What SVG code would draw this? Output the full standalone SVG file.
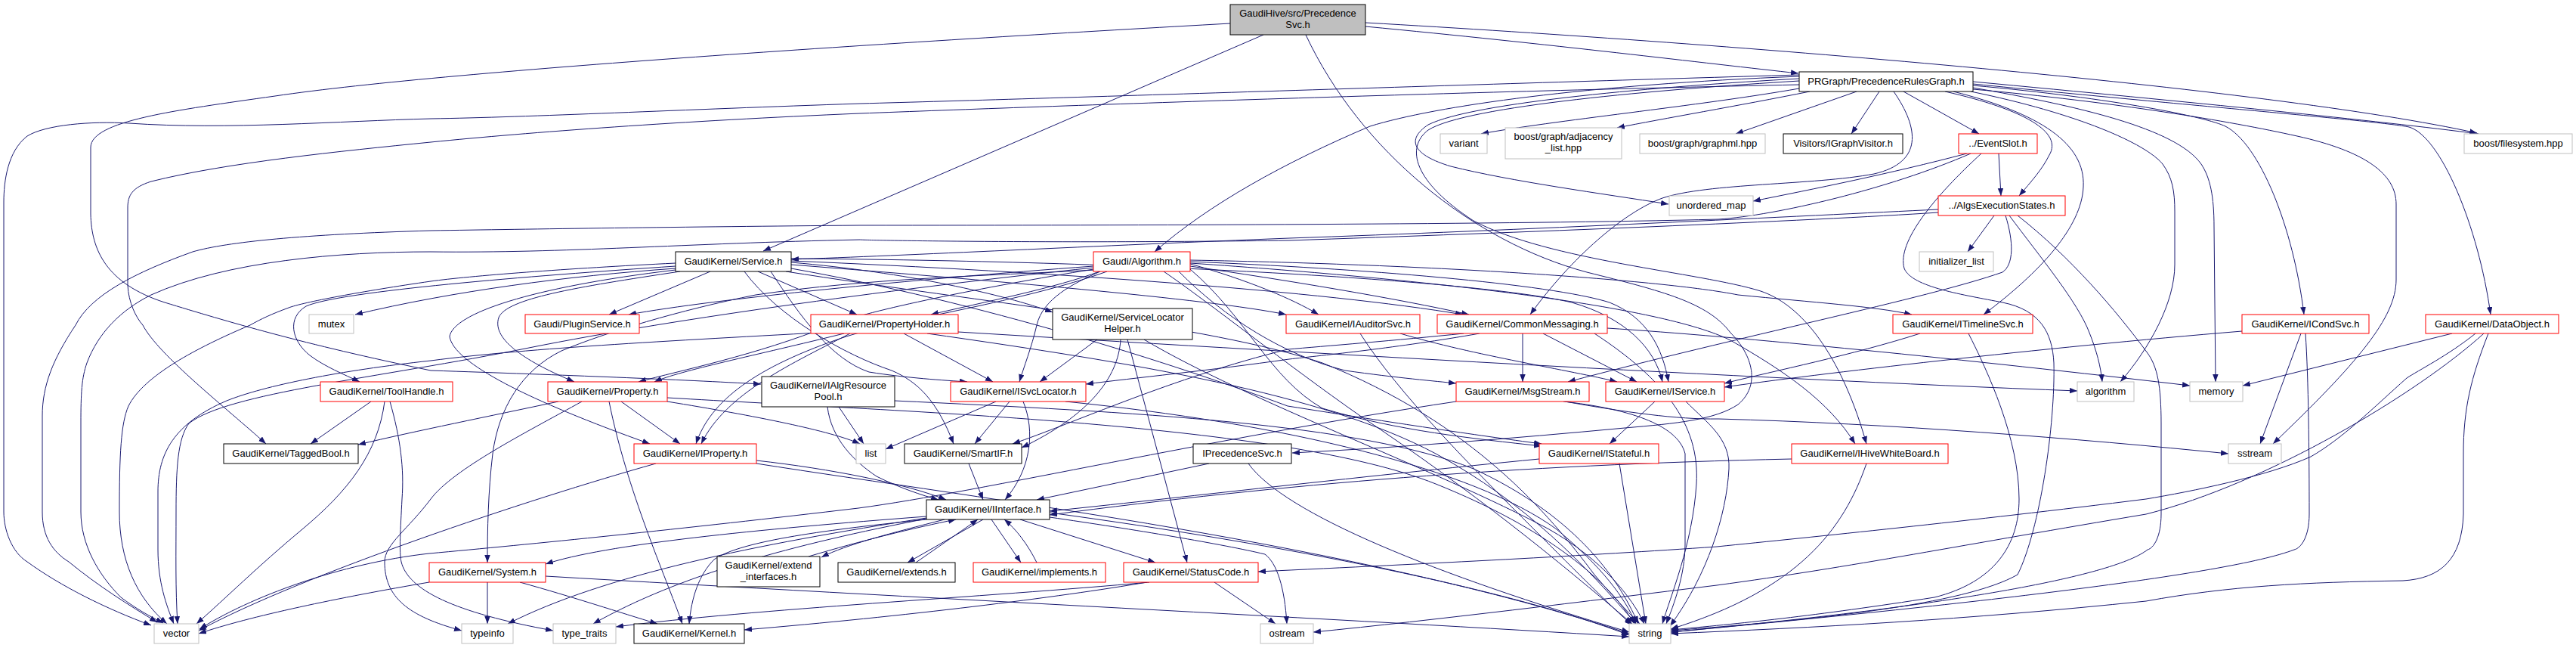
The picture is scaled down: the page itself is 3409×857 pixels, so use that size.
<svg xmlns="http://www.w3.org/2000/svg" width="3409" height="857" viewBox="0 0 3409 857">
<defs>
<marker id="ah" markerUnits="userSpaceOnUse" markerWidth="11" markerHeight="8" refX="10" refY="3.75" orient="auto"><path d="M0,0 L10,3.75 L0,7.5 z" fill="#191970"/></marker>
<style>
.e path{fill:none;stroke:#191970;stroke-width:1;marker-end:url(#ah)}
.n rect{fill:#fff;stroke-width:1}
.k rect{stroke:#000}
.r rect{stroke:#ff0000}
.g rect{stroke:#bfbfbf}
.top rect{fill:#bfbfbf;stroke:#000}
text{font-family:"Liberation Sans",Arial,sans-serif;font-size:13px;fill:#000;text-anchor:middle}
</style>
</defs>
<rect x="0" y="0" width="3409" height="857" fill="#fff"/>
<g id="connectors" class="e">
<path d="M1807,35 C2050,58 2260,84 2380,97"/>
<path d="M1807,30 C2300,58 3000,115 3278,176"/>
<path d="M1672,46 L1010,332"/>
<path d="M1628,31 C1250,52 600,92 364,127 C230,146 120,160 120,195 L120,283 C121,330 140,375 218,400 C300,425 400,455 570,490 C750,496 900,502 1007,508"/>
<path d="M1728,46 C1800,200 1950,320 2100,360 C2200,385 2260,400 2290,440 C2320,470 2330,510 2300,535 C2270,555 2220,560 2150,566 C2000,580 1850,592 1710,599"/>
<path d="M2381,117 C2250,140 2050,160 1960,177"/>
<path d="M2395,121 C2300,140 2200,157 2140,169"/>
<path d="M2457,121 L2297,177"/>
<path d="M2487,121 L2450,177"/>
<path d="M2519,121 L2619,177"/>
<path d="M2574,121 C2680,145 2730,175 2712,205 C2702,225 2688,240 2672,259"/>
<path d="M2506,121 C2540,170 2545,215 2480,230 C2400,245 2260,242 2200,262 C2150,280 2080,340 2025,416"/>
<path d="M2381,104 C2200,114 1950,135 1890,165 C1860,185 1870,205 1920,220 C2000,240 2120,256 2208,270"/>
<path d="M2381,107 C2200,118 1940,140 1890,172 C1860,195 1870,240 1950,292 C2050,345 2250,360 2330,385 C2390,405 2440,480 2470,587"/>
<path d="M2381,101 C2100,112 1900,140 1813,167 C1700,215 1600,270 1528,333"/>
<path d="M2381,99 C2000,110 1400,130 1138,137 C900,145 700,155 570,157 C450,160 300,172 171,163 C120,160 60,165 36,180 C10,200 5,240 5,267 L5,677 C5,700 15,730 36,743 C80,775 140,805 200,827"/>
<path d="M2381,112 C1900,122 1400,140 1138,150 C900,160 700,175 570,188 C450,200 300,215 200,240 C175,248 169,258 169,275 L169,377 C170,400 180,420 189,430 C210,470 300,540 352,587"/>
<path d="M2611,108 C2900,135 3150,160 3280,177"/>
<path d="M2611,111 C2900,140 3150,160 3188,168 C3230,180 3280,300 3296,416"/>
<path d="M2611,113 C2800,130 2920,155 2945,167 C2990,190 3035,300 3049,416"/>
<path d="M2611,116 C2750,140 2880,170 2913,217 C2925,235 2930,260 2930,300 L2932,505"/>
<path d="M2611,118 C2800,135 2950,160 3040,180 C3130,200 3171,230 3171,270 L3171,370 C3171,420 3120,480 3008,587"/>
<path d="M2608,121 C2750,150 2840,190 2862,217 C2875,235 2878,253 2878,280 L2878,350 C2878,400 2845,460 2806,505"/>
<path d="M2585,121 C2700,150 2760,190 2757,247 C2755,300 2700,360 2625,416"/>
<path d="M2603,203 C2500,230 2400,250 2320,266"/>
<path d="M2645,203 L2648,259"/>
<path d="M2608,203 C2500,250 2350,285 2274,290 C2000,297 1500,298 1138,298 C900,300 700,303 570,305 C400,310 300,320 255,333 C180,360 120,390 100,430 C70,475 56,510 56,550 L56,677 C56,710 70,730 91,743 C130,775 170,800 208,823"/>
<path d="M2622,203 C2560,260 2510,320 2520,355 C2530,380 2600,390 2650,400 C2700,410 2716,440 2718,480 C2720,560 2700,700 2670,760 C2600,800 2400,820 2211,834"/>
<path d="M2565,277 C2400,285 2000,305 1706,315 C1450,325 1200,338 1047,343"/>
<path d="M2565,281 C2400,292 2000,308 1706,318 C1400,322 1150,318 1138,317 C900,322 750,335 570,333 C450,333 300,345 200,390 C160,410 130,440 115,480 C108,500 107,520 107,560 L107,677 C107,720 130,760 160,790 C180,805 198,815 216,824"/>
<path d="M2639,285 L2604,333"/>
<path d="M2654,285 C2665,320 2665,350 2650,360 C2550,395 2300,445 2075,505"/>
<path d="M2659,285 C2700,340 2750,400 2765,440 C2775,465 2780,485 2782,505"/>
<path d="M2670,285 C2740,340 2800,410 2842,467 C2855,485 2860,510 2860,560 L2860,680 C2860,710 2850,725 2842,727 C2800,760 2600,800 2211,836"/>
<path d="M940,359 L806,416"/>
<path d="M1003,359 L1134,416"/>
<path d="M894,355 C750,365 600,385 470,416"/>
<path d="M894,348 C750,355 620,365 570,372 C480,385 400,400 382,407 C360,415 345,422 331,430 C260,460 190,497 170,537 C160,560 158,600 158,677 C158,740 180,790 221,825"/>
<path d="M894,352 C700,365 450,385 405,405 C380,420 385,450 410,470 C430,485 455,495 476,505"/>
<path d="M900,359 C760,380 670,395 660,420 C650,450 700,480 760,505"/>
<path d="M894,357 C700,380 600,415 595,445 C600,480 700,530 860,587"/>
<path d="M985,359 C1030,420 1120,470 1180,490 C1215,505 1240,530 1262,587"/>
<path d="M1020,359 C1060,420 1100,475 1150,492 C1200,500 1250,503 1280,505"/>
<path d="M1047,347 C1200,360 1330,390 1393,413"/>
<path d="M1047,350 C1300,370 1600,395 1702,416"/>
<path d="M1047,345 C1400,360 1750,385 1936,416"/>
<path d="M1047,342 C1500,345 1950,370 2080,400 C2150,420 2190,460 2200,505"/>
<path d="M1047,355 C1300,400 1550,480 1704,537 C1850,560 1950,575 2040,587"/>
<path d="M1040,359 C1300,400 1600,430 1750,480 C1950,560 2050,680 2110,760 C2140,795 2155,810 2170,825"/>
<path d="M1447,352 C1200,370 950,395 832,416"/>
<path d="M1455,359 C1400,380 1300,400 1232,416"/>
<path d="M1447,356 C1300,380 1150,410 1100,430 C1000,470 900,490 845,505"/>
<path d="M1465,359 C1350,400 1200,420 1120,445 C1000,485 940,530 921,587"/>
<path d="M1456,359 C1420,375 1380,395 1372,430 C1365,460 1355,485 1349,505"/>
<path d="M1450,357 C1300,365 1150,368 1000,390 C900,410 800,440 743,464 C690,490 660,540 652,600 C646,650 645,700 645,744"/>
<path d="M1575,349 C1650,370 1710,395 1745,416"/>
<path d="M1575,352 C1700,370 1850,395 1944,416"/>
<path d="M1575,346 C1800,355 2050,375 2130,400 C2180,420 2200,460 2208,505"/>
<path d="M1575,356 C1650,420 1680,500 1750,540 C1850,570 1950,580 2040,590"/>
<path d="M1575,344 C1900,350 2200,370 2300,390 C2400,400 2480,405 2530,416"/>
<path d="M1575,348 C1900,370 2200,405 2290,450 C2360,490 2420,530 2455,587"/>
<path d="M1560,359 C1620,420 1700,470 1780,490 C1850,500 1900,504 1927,507"/>
<path d="M1447,354 C1200,380 900,420 700,460 C500,500 300,520 250,560 C235,580 233,620 233,677 C233,730 232,780 235,825"/>
<path d="M1540,359 C1600,400 1700,480 1800,550 C1950,650 2060,740 2160,825"/>
<path d="M1452,449 L1376,505"/>
<path d="M1483,449 C1480,500 1440,550 1352,592"/>
<path d="M1492,449 L1571,744"/>
<path d="M1514,449 C1650,530 1900,620 2050,700 C2120,740 2160,790 2176,825"/>
<path d="M1196,441 L1314,505"/>
<path d="M1117,441 C1000,470 900,490 866,505"/>
<path d="M1125,441 C1050,480 960,520 928,587"/>
<path d="M1138,437 C900,450 700,460 570,477 C450,490 350,510 300,530 C230,560 209,600 209,650 L209,727 C209,770 220,800 230,825"/>
<path d="M1268,439 C1700,465 2300,500 2749,517"/>
<path d="M1227,441 C1500,480 1750,520 1900,600 C2020,665 2100,750 2165,825"/>
<path d="M1853,441 C1950,470 2080,490 2140,505"/>
<path d="M1800,441 C1850,520 1950,620 2030,700 C2090,760 2130,800 2160,827"/>
<path d="M2015,441 L2015,505"/>
<path d="M2042,441 L2166,505"/>
<path d="M1958,441 C1850,460 1750,470 1706,475 C1600,490 1500,500 1437,508"/>
<path d="M1937,441 C1850,450 1750,458 1704,462 C1550,500 1420,560 1340,587"/>
<path d="M2127,434 C2300,445 2600,475 2898,510"/>
<path d="M2110,441 C2200,500 2250,560 2245,640 C2240,720 2210,790 2200,825"/>
<path d="M2541,441 C2450,470 2350,490 2282,507"/>
<path d="M2605,441 C2630,490 2672,580 2672,660 C2672,720 2640,770 2560,790 C2400,815 2300,825 2211,833"/>
<path d="M2967,438 C2700,460 2400,495 2282,512"/>
<path d="M3045,441 L2991,587"/>
<path d="M3051,441 C3055,500 3056,600 3056,680 C3056,710 3045,725 3036,727 C2950,760 2600,800 2211,836"/>
<path d="M3245,441 L2968,510"/>
<path d="M3276,441 C3240,470 3200,490 3185,500 C3140,540 3100,580 3058,604 C3000,630 2900,650 2840,660 C2600,690 2400,710 2272,723 C2100,735 1900,745 1665,756"/>
<path d="M3287,441 C3200,520 3000,640 2840,680 C2600,720 2450,750 2272,774 C2100,795 1900,820 1738,836"/>
<path d="M3293,441 C3270,500 3260,540 3260,600 L3260,680 C3258,740 3230,765 3180,768 C3050,770 2950,775 2840,795 C2600,820 2400,830 2211,838"/>
<path d="M491,531 L411,587"/>
<path d="M509,531 C500,600 460,650 400,700 C340,750 300,790 260,825"/>
<path d="M516,531 C530,580 535,620 532,660 C530,700 528,730 531,743 C540,780 600,810 732,834"/>
<path d="M822,531 L900,587"/>
<path d="M739,531 C650,550 550,570 474,588"/>
<path d="M770,531 C700,570 600,620 570,660 C540,700 509,720 509,743 C509,790 540,815 611,834"/>
<path d="M806,531 C830,650 880,760 903,825"/>
<path d="M883,526 C1200,545 1700,560 1900,640 C2050,700 2130,770 2163,825"/>
<path d="M883,531 C1000,550 1100,570 1138,587"/>
<path d="M1110,538 L1143,587"/>
<path d="M1095,538 C1100,580 1130,610 1160,630 C1190,645 1220,655 1242,661"/>
<path d="M1184,530 C1500,545 1800,560 1950,620 C2080,680 2140,760 2168,825"/>
<path d="M1318,531 L1172,594"/>
<path d="M1336,531 L1290,587"/>
<path d="M1354,531 C1370,570 1365,620 1330,661"/>
<path d="M1410,531 C1700,560 1950,620 2060,700 C2120,750 2150,790 2165,825"/>
<path d="M1927,531 C1600,580 1300,650 1136,672 C900,700 700,720 568,732 C450,745 330,790 264,832"/>
<path d="M2069,531 C2150,540 2220,560 2230,600 L2230,720 C2230,760 2215,800 2205,825"/>
<path d="M2071,531 C2150,545 2220,555 2274,554 C2500,560 2750,580 2949,600"/>
<path d="M2190,531 L2130,587"/>
<path d="M2231,531 C2260,560 2290,580 2288,620 C2285,680 2260,760 2210,828"/>
<path d="M2037,607 C1800,630 1500,665 1389,676"/>
<path d="M2143,613 L2178,825"/>
<path d="M2371,607 C2000,615 1700,640 1389,681"/>
<path d="M2470,613 C2440,700 2380,780 2211,832"/>
<path d="M1600,613 L1372,661"/>
<path d="M1652,613 C1700,680 1900,760 2156,836"/>
<path d="M868,613 C700,660 400,760 263,834"/>
<path d="M1001,609 C1100,620 1200,640 1252,661"/>
<path d="M1001,613 C1300,660 1800,720 2156,838"/>
<path d="M1282,613 L1301,661"/>
<path d="M1226,683 C1000,700 800,720 722,746"/>
<path d="M1250,687 C1180,705 1120,720 1087,737"/>
<path d="M1070,736 C1140,715 1210,698 1265,687"/>
<path d="M1301,687 L1201,744"/>
<path d="M1212,744 L1294,687"/>
<path d="M1312,687 L1351,744"/>
<path d="M1372,744 C1360,720 1345,700 1329,687"/>
<path d="M1350,687 L1529,744"/>
<path d="M1389,684 C1500,700 1620,720 1674,733 C1690,745 1700,777 1703,825"/>
<path d="M1226,685 C1000,720 800,760 672,825"/>
<path d="M1226,686 C1050,720 900,760 785,825"/>
<path d="M1226,687 C1100,700 980,715 945,740 C925,760 915,790 912,825"/>
<path d="M1389,678 C1700,720 2000,780 2156,840"/>
<path d="M568,770 C450,790 330,815 263,838"/>
<path d="M645,770 L645,825"/>
<path d="M688,770 C760,790 820,810 870,825"/>
<path d="M722,762 C1200,790 1800,820 2156,842"/>
<path d="M1607,770 L1688,825"/>
<path d="M1518,770 C1400,790 1200,815 985,833"/>
<path d="M1521,770 C1300,790 1000,805 815,829"/>
</g>
<g id="node-precedencesvc" class="n top"><rect x="1628" y="6" width="179" height="40"/><text x="1717.5" y="22">GaudiHive/src/Precedence</text><text x="1717.5" y="37">Svc.h</text></g>
<g id="node-prgraph" class="n k"><rect x="2381" y="95" width="230" height="26"/><text x="2496" y="112">PRGraph/PrecedenceRulesGraph.h</text></g>
<g id="node-variant" class="n g"><rect x="1906" y="177" width="62" height="26"/><text x="1937" y="194">variant</text></g>
<g id="node-adjacency" class="n g"><rect x="1992" y="169" width="154" height="41"/><text x="2069" y="185">boost/graph/adjacency</text><text x="2069" y="200">_list.hpp</text></g>
<g id="node-graphml" class="n g"><rect x="2170" y="177" width="166" height="26"/><text x="2253" y="194">boost/graph/graphml.hpp</text></g>
<g id="node-igraphvisitor" class="n k"><rect x="2360" y="177" width="158" height="26"/><text x="2439" y="194">Visitors/IGraphVisitor.h</text></g>
<g id="node-eventslot" class="n r"><rect x="2592" y="177" width="104" height="26"/><text x="2644" y="194">../EventSlot.h</text></g>
<g id="node-filesystem" class="n g"><rect x="3261" y="177" width="143" height="26"/><text x="3332.5" y="194">boost/filesystem.hpp</text></g>
<g id="node-unordered-map" class="n g"><rect x="2209" y="259" width="111" height="26"/><text x="2264.5" y="276">unordered_map</text></g>
<g id="node-algsexec" class="n r"><rect x="2565" y="259" width="168" height="26"/><text x="2649" y="276">../AlgsExecutionStates.h</text></g>
<g id="node-service" class="n k"><rect x="894" y="333" width="153" height="26"/><text x="970.5" y="350">GaudiKernel/Service.h</text></g>
<g id="node-algorithm-h" class="n r"><rect x="1447" y="333" width="128" height="26"/><text x="1511" y="350">Gaudi/Algorithm.h</text></g>
<g id="node-initializer-list" class="n g"><rect x="2540" y="333" width="98" height="26"/><text x="2589" y="350">initializer_list</text></g>
<g id="node-mutex" class="n g"><rect x="409" y="416" width="59" height="25"/><text x="438.5" y="433">mutex</text></g>
<g id="node-pluginservice" class="n r"><rect x="695" y="416" width="151" height="25"/><text x="770.5" y="433">Gaudi/PluginService.h</text></g>
<g id="node-propertyholder" class="n r"><rect x="1073" y="416" width="195" height="25"/><text x="1170.5" y="433">GaudiKernel/PropertyHolder.h</text></g>
<g id="node-servicelocatorhelper" class="n k"><rect x="1393" y="408" width="185" height="41"/><text x="1485.5" y="424">GaudiKernel/ServiceLocator</text><text x="1485.5" y="439">Helper.h</text></g>
<g id="node-iauditorsvc" class="n r"><rect x="1702" y="416" width="177" height="25"/><text x="1790.5" y="433">GaudiKernel/IAuditorSvc.h</text></g>
<g id="node-commonmessaging" class="n r"><rect x="1902" y="416" width="225" height="25"/><text x="2014.5" y="433">GaudiKernel/CommonMessaging.h</text></g>
<g id="node-itimelinesvc" class="n r"><rect x="2505" y="416" width="185" height="25"/><text x="2597.5" y="433">GaudiKernel/ITimelineSvc.h</text></g>
<g id="node-icondsvc" class="n r"><rect x="2967" y="416" width="168" height="25"/><text x="3051" y="433">GaudiKernel/ICondSvc.h</text></g>
<g id="node-dataobject" class="n r"><rect x="3210" y="416" width="176" height="25"/><text x="3298" y="433">GaudiKernel/DataObject.h</text></g>
<g id="node-toolhandle" class="n r"><rect x="424" y="505" width="175" height="26"/><text x="511.5" y="522">GaudiKernel/ToolHandle.h</text></g>
<g id="node-property" class="n r"><rect x="725" y="505" width="158" height="26"/><text x="804" y="522">GaudiKernel/Property.h</text></g>
<g id="node-ialgresourcepool" class="n k"><rect x="1008" y="498" width="176" height="40"/><text x="1096" y="514">GaudiKernel/IAlgResource</text><text x="1096" y="529">Pool.h</text></g>
<g id="node-isvclocator" class="n r"><rect x="1258" y="505" width="179" height="26"/><text x="1347.5" y="522">GaudiKernel/ISvcLocator.h</text></g>
<g id="node-msgstream" class="n r"><rect x="1927" y="505" width="176" height="26"/><text x="2015" y="522">GaudiKernel/MsgStream.h</text></g>
<g id="node-iservice" class="n r"><rect x="2125" y="505" width="157" height="26"/><text x="2203.5" y="522">GaudiKernel/IService.h</text></g>
<g id="node-algorithm" class="n g"><rect x="2749" y="505" width="75" height="26"/><text x="2786.5" y="522">algorithm</text></g>
<g id="node-memory" class="n g"><rect x="2898" y="505" width="70" height="26"/><text x="2933" y="522">memory</text></g>
<g id="node-taggedbool" class="n k"><rect x="296" y="587" width="178" height="26"/><text x="385" y="604">GaudiKernel/TaggedBool.h</text></g>
<g id="node-iproperty" class="n r"><rect x="839" y="587" width="162" height="26"/><text x="920" y="604">GaudiKernel/IProperty.h</text></g>
<g id="node-list" class="n g"><rect x="1133" y="587" width="39" height="26"/><text x="1152.5" y="604">list</text></g>
<g id="node-smartif" class="n k"><rect x="1197" y="587" width="155" height="26"/><text x="1274.5" y="604">GaudiKernel/SmartIF.h</text></g>
<g id="node-iprecedencesvc" class="n k"><rect x="1579" y="587" width="130" height="26"/><text x="1644" y="604">IPrecedenceSvc.h</text></g>
<g id="node-istateful" class="n r"><rect x="2037" y="587" width="158" height="26"/><text x="2116" y="604">GaudiKernel/IStateful.h</text></g>
<g id="node-ihivewhiteboard" class="n r"><rect x="2371" y="587" width="207" height="26"/><text x="2474.5" y="604">GaudiKernel/IHiveWhiteBoard.h</text></g>
<g id="node-sstream" class="n g"><rect x="2949" y="587" width="70" height="26"/><text x="2984" y="604">sstream</text></g>
<g id="node-iinterface" class="n k"><rect x="1226" y="661" width="163" height="26"/><text x="1307.5" y="678">GaudiKernel/IInterface.h</text></g>
<g id="node-system" class="n r"><rect x="568" y="744" width="154" height="26"/><text x="645" y="761">GaudiKernel/System.h</text></g>
<g id="node-extend-interfaces" class="n k"><rect x="949" y="736" width="136" height="40"/><text x="1017" y="752">GaudiKernel/extend</text><text x="1017" y="767">_interfaces.h</text></g>
<g id="node-extends" class="n k"><rect x="1109" y="744" width="155" height="26"/><text x="1186.5" y="761">GaudiKernel/extends.h</text></g>
<g id="node-implements" class="n r"><rect x="1288" y="744" width="175" height="26"/><text x="1375.5" y="761">GaudiKernel/implements.h</text></g>
<g id="node-statuscode" class="n r"><rect x="1487" y="744" width="178" height="26"/><text x="1576" y="761">GaudiKernel/StatusCode.h</text></g>
<g id="node-vector" class="n g"><rect x="204" y="825" width="59" height="26"/><text x="233.5" y="842">vector</text></g>
<g id="node-typeinfo" class="n g"><rect x="611" y="825" width="68" height="26"/><text x="645" y="842">typeinfo</text></g>
<g id="node-type-traits" class="n g"><rect x="732" y="825" width="83" height="26"/><text x="773.5" y="842">type_traits</text></g>
<g id="node-kernel" class="n k"><rect x="839" y="825" width="146" height="26"/><text x="912" y="842">GaudiKernel/Kernel.h</text></g>
<g id="node-ostream" class="n g"><rect x="1668" y="825" width="70" height="26"/><text x="1703" y="842">ostream</text></g>
<g id="node-string" class="n g"><rect x="2156" y="825" width="55" height="26"/><text x="2183.5" y="842">string</text></g>
</svg>
